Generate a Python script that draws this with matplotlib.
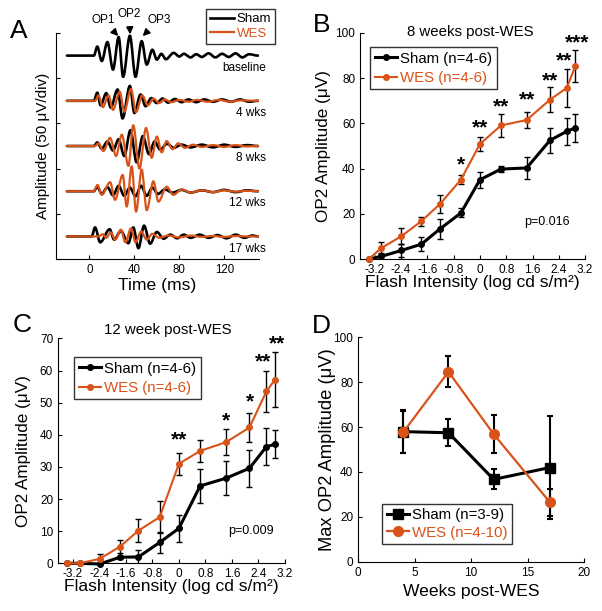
import matplotlib
matplotlib.use("Agg")
import matplotlib.pyplot as plt
from matplotlib.path import Path
from matplotlib.patches import PathPatch

# Section 1: fonts and colours
plt.rcParams['font.family'] = ['Liberation Sans', 'DejaVu Sans']
plt.rcParams['xtick.direction'] = 'in'
plt.rcParams['ytick.direction'] = 'in'
plt.rcParams['axes.linewidth'] = 0.8
sham_col = 'black'
wes_col = '#D95319'

# Section 2A: panel A traces, peaks and troughs (time in ms, amplitude in uV around each baseline)
trace_names = ['baseline', '4 wks', '8 wks', '12 wks', '17 wks']
trace_offsets = [450, 350, 250, 150, 50]

base_sham_t = [-20, 4, 7, 11, 16, 21, 26, 30, 36, 41, 46.5, 51, 56, 60, 64, 68, 75, 80, 84, 90, 95, 100, 106, 112, 118, 124, 130, 136, 142, 150]
base_sham_v = [0, 0, 20, -12, 30, -31, 41, -47, 44, -47, 32, -20, 13, -9, 4, -8, 6, -2, 4, -4, 3, -3, 5, -4, 4, -3, 5, -4, 3, 0]

w4_sham_t = [-20, 4, 7, 10, 15, 19, 25, 29.5, 36, 40, 45.5, 50, 55, 60, 65, 70, 76, 82, 88, 95, 102, 110, 118, 126, 134, 142, 150]
w4_sham_v = [0, 0, 18, -10, 17, -15, 25, -39, 33, -27, 14, -12, 6, -5, 5, -4, 4, -3, 3, -3, 3, -2, 3, -2, 3, -2, 0]
w4_wes_t = [-20, 5, 8, 12, 17, 21, 27, 31, 37, 41.5, 47, 52, 57, 62, 67, 73, 80, 88, 96, 105, 115, 125, 135, 150]
w4_wes_v = [0, 0, 12, -14, 12, -20, 20, -24, 26, -25, 12, -10, 5, -5, 3, -3, 2, -2, 2, -2, 2, -2, 1, 0]

w8_sham_t = [-20, 4, 7, 11, 16, 21, 26, 31, 36.5, 42, 47.5, 53, 58, 63, 69, 75, 82, 90, 100, 110, 120, 130, 140, 150]
w8_sham_v = [0, 0, 8, -6, 10, -10, 15, -22, 35, -36, 22, -18, 10, -8, 5, -4, 3, -3, 3, -3, 3, -2, 2, 0]
w8_wes_t = [-20, 5, 8, 12.4, 18.4, 23.7, 28.8, 34.7, 39, 44.5, 50.4, 55.4, 60, 64.3, 68.7, 74, 79, 85, 92, 100, 110, 120, 130, 140, 150]
w8_wes_v = [0, 0, 6, -11, 18, -22, 25, -44, 46, -50, 40, -26, 21, -14, 11, -7, 6, -4, 3, -2, 2, -2, 2, -1, 0]

w12_sham_t = [-20, 4, 7, 11, 16, 21, 26, 31, 36, 41, 46, 51, 56, 61, 67, 74, 82, 90, 100, 110, 120, 130, 140, 150]
w12_sham_v = [0, 0, 10, -6, 9, -9, 12, -10, 8, -11, 12, -10, 8, -6, 4, -3, 3, -3, 2, -2, 3, -2, 2, 0]
w12_wes_t = [-20, 4, 7.2, 10.9, 18.4, 22.8, 29.6, 33.2, 37.6, 41.5, 46.5, 51, 56.9, 61.4, 68.7, 74.7, 82, 90, 100, 110, 120, 130, 140, 150]
w12_wes_v = [0, 0, 14, -8, 20, -19, 36, -34, 55, -45, 48, -42, 22, -23, 10, -8, 4, -3, 2, -2, 2, -1, 1, 0]

w17_sham_t = [-20, 2, 5, 9.6, 18, 22, 28, 34.7, 39, 43.6, 48.6, 54, 60, 66, 72, 78, 84, 90, 98, 106, 114, 122, 130, 138, 145, 150]
w17_sham_v = [0, 0, 20, -13, 16, -7, 12, -15, 20, -26, 24, -16, 10, -5, 4, -4, 4, -3, 4, -3, 3, -4, 4, -3, 2, 0]
w17_wes_t = [-20, 8, 12, 15, 19, 23, 28, 32, 37, 41, 46, 51, 56, 62, 70, 80, 90, 100, 110, 120, 130, 140, 150]
w17_wes_v = [0, 0, 5, -3, 9, -7, 15, -13, 18, -13, 11, -7, 6, -3, 2, -2, 2, -1, 1, -1, 1, 0, 0]

# Section 2B: panels B and C (OP2 amplitude vs flash intensity)
flash = [-3.38, -3.0, -2.39, -1.78, -1.22, -0.58, 0.0, 0.64, 1.42, 2.13, 2.64, 2.9]

B_sham = [0, 1.2, 3.8, 6.6, 13.3, 20.4, 35.1, 39.8, 40.3, 52.5, 56.5, 58.0]
B_sham_err = [0, 1.5, 3, 3, 4.5, 2, 3.5, 1.5, 5, 5.5, 6, 6]
B_wes = [0, 4.9, 10.1, 16.8, 24.3, 35.1, 50.9, 59.1, 61.5, 70.5, 75.7, 85.3]
B_wes_err = [0, 2.5, 3.5, 2, 4, 2, 3, 5, 3.5, 5.5, 8.5, 7]
B_star_x = [-0.58, 0.0, 0.64, 1.42, 2.13, 2.55, 2.95]
B_star_y = [41.7, 58, 67.3, 70.3, 78.6, 87.5, 95.6]
B_star_txt = ['*', '**', '**', '**', '**', '**', '***']

C_sham = [0, 0, -0.2, 1.9, 2.0, 6.5, 10.9, 24.1, 26.5, 29.6, 36.3, 37.1]
C_sham_err = [0, 0, 1.2, 0.4, 2.2, 3.2, 4.2, 5.3, 5.3, 5.8, 5.7, 4.4]
C_wes = [0, 0, 1.4, 5.2, 10.2, 14.4, 31.0, 35.0, 37.7, 42.3, 53.5, 57.2]
C_wes_err = [0, 0, 1.5, 2.0, 3.5, 5.0, 3.5, 3.5, 4.0, 4.5, 6.3, 8.5]
C_star_x = [0.0, 1.42, 2.13, 2.55, 2.95]
C_star_y = [38.4, 44.4, 50.3, 62.7, 68.4]
C_star_txt = ['**', '*', '*', '**', '**']

# Section 2C: panel D (max OP2 vs weeks)
weeks = [4, 8, 12, 17]
D_sham = [58.0, 57.5, 36.7, 42.0]
D_sham_err = [9.7, 6, 4.5, 23]
D_wes = [57.8, 84.7, 56.9, 26.4]
D_wes_err = [9.5, 7, 8.5, 6]


def px(x, y):
    # pixel position in the 602x611 picture -> figure fraction
    return x / 602, 1 - y / 611


def clean(ax, size=8.5):
    ax.spines['top'].set_visible(False)
    ax.spines['right'].set_visible(False)
    ax.tick_params(labelsize=size, length=3, width=0.8)


def wave(ax, t, v, off, color, lw):
    # smooth curve through the peaks/troughs, flat at each extremum
    verts = [(t[0], v[0] + off)]
    codes = [Path.MOVETO]
    for i in range(len(t) - 1):
        d = (t[i + 1] - t[i]) / 3.0
        verts += [(t[i] + d, v[i] + off), (t[i + 1] - d, v[i + 1] + off), (t[i + 1], v[i + 1] + off)]
        codes += [Path.CURVE4] * 3
    ax.add_patch(PathPatch(Path(verts, codes), fill=False, edgecolor=color, lw=lw,
                           capstyle='round', joinstyle='round'))


def make_legend(handles, loc, anchor, size, hl, spacing):
    leg = fig.legend(handles=handles, loc=loc, bbox_to_anchor=anchor, fontsize=size,
                     frameon=True, fancybox=False, edgecolor='black', handlelength=hl,
                     handletextpad=0.2, borderpad=0.3, labelspacing=spacing, borderaxespad=0)
    leg.get_frame().set_linewidth(1)
    leg.get_texts()[1].set_color(wes_col)
    return leg


fig = plt.figure(figsize=(6.02, 6.11), dpi=100)

# Section 3: panel A
axA = fig.add_axes([0.0925, 0.576, 0.338, 0.370])
clean(axA, 8.3)
sham_traces = [(base_sham_t, base_sham_v), (w4_sham_t, w4_sham_v), (w8_sham_t, w8_sham_v),
               (w12_sham_t, w12_sham_v), (w17_sham_t, w17_sham_v)]
wes_traces = [None, (w4_wes_t, w4_wes_v), (w8_wes_t, w8_wes_v),
              (w12_wes_t, w12_wes_v), (w17_wes_t, w17_wes_v)]
for i in range(5):
    off = trace_offsets[i]
    t, v = sham_traces[i]
    wave(axA, t, v, off, sham_col, 1.9)
    if wes_traces[i] is not None:
        t, v = wes_traces[i]
        wave(axA, t, v, off, wes_col, 1.6)
    axA.text(157, off - 27, trace_names[i], ha='right', va='center', fontsize=8.5, clip_on=False)
axA.set_xlim(-30, 151)
axA.set_ylim(0, 500)
axA.set_xticks([0, 40, 80, 120])
axA.set_yticks([0, 100, 200, 300, 400, 500])
axA.set_yticklabels([])
axA.set_xlabel('Time (ms)', fontsize=12.6, va='center')
axA.xaxis.set_label_coords(0.5, -0.115)
axA.set_ylabel('Amplitude (50 μV/div)', fontsize=11, va='center')
axA.yaxis.set_label_coords(-0.064, 0.5)
for lab, txy, tip in [('OP1', (12.6, 529), (25.6, 493)), ('OP2', (35.3, 542), (36.2, 497)),
                      ('OP3', (61.7, 529), (47.4, 493))]:
    axA.annotate(lab, xy=tip, xytext=txy, ha='center', va='center', fontsize=8.5,
                 annotation_clip=False,
                 arrowprops=dict(arrowstyle='-|>', color='black', lw=1.2, shrinkA=3, shrinkB=0,
                                 mutation_scale=10))
lA1, = axA.plot([], [], color=sham_col, lw=1.9, label='Sham')
lA2, = axA.plot([], [], color=wes_col, lw=1.6, label='WES')
make_legend([lA1, lA2], 'upper right', px(275, 9), 9.5, 1.8, 0.2)

# Section 4: panels B and C
def flash_panel(ax, sham, sham_err, wes, wes_err, sx, sy, stxt, ymax, ystep, ptext, pxy, leg_xy):
    clean(ax)
    ax.errorbar(flash, sham, yerr=sham_err, fmt='none', ecolor='black', elinewidth=1,
                capsize=2, capthick=1, zorder=2)
    ax.errorbar(flash, wes, yerr=wes_err, fmt='none', ecolor='black', elinewidth=1,
                capsize=2, capthick=1, zorder=2)
    l1, = ax.plot(flash, sham, '-o', color=sham_col, lw=2.2, ms=4, clip_on=False, zorder=3,
                  label='Sham (n=4-6)')
    l2, = ax.plot(flash, wes, '-o', color=wes_col, lw=1.5, ms=4, clip_on=False, zorder=4,
                  label='WES (n=4-6)')
    for x, y, s in zip(sx, sy, stxt):
        ax.text(x, y, s, ha='center', va='center', fontsize=15, fontweight='bold', clip_on=False)
    ax.set_xlim(-3.65, 3.2)
    ax.set_ylim(0, ymax)
    ax.set_xticks([-3.2, -2.4, -1.6, -0.8, 0, 0.8, 1.6, 2.4, 3.2])
    ax.set_xticklabels(['-3.2', '-2.4', '-1.6', '-0.8', '0', '0.8', '1.6', '2.4', '3.2'])
    ax.set_yticks(range(0, ymax + 1, ystep))
    ax.text(pxy[0], pxy[1], ptext, ha='center', va='center', fontsize=9, transform=ax.transAxes)
    ax.set_xlabel('Flash Intensity (log cd s/m²)', fontsize=12.6, va='center')
    ax.xaxis.set_label_coords(0.5, -0.102)
    ax.set_ylabel('OP2 Amplitude (μV)', fontsize=12.3, va='center')
    make_legend([l1, l2], 'upper left', leg_xy, 10.8, 1.5, 0.35)


axB = fig.add_axes([0.598, 0.576, 0.374, 0.370])
flash_panel(axB, B_sham, B_sham_err, B_wes, B_wes_err, B_star_x, B_star_y, B_star_txt,
            100, 20, 'p=0.016', (0.83, 0.165), px(370, 47))
axB.yaxis.set_label_coords(-0.164, 0.5)

axC = fig.add_axes([0.0963, 0.078, 0.377, 0.368])
flash_panel(axC, C_sham, C_sham_err, C_wes, C_wes_err, C_star_x, C_star_y, C_star_txt,
            70, 10, 'p=0.009', (0.85, 0.145), px(74, 357))
axC.yaxis.set_label_coords(-0.15, 0.5)

# Section 5: panel D
axD = fig.add_axes([0.595, 0.0807, 0.375, 0.367])
clean(axD)
axD.errorbar(weeks, D_sham, yerr=D_sham_err, fmt='none', ecolor='black', elinewidth=1.5,
             capsize=2, capthick=1.5)
axD.errorbar(weeks, D_wes, yerr=D_wes_err, fmt='none', ecolor='black', elinewidth=1.5,
             capsize=2, capthick=1.5)
lD1, = axD.plot(weeks, D_sham, '-s', color=sham_col, lw=2.2, ms=7, label='Sham (n=3-9)')
lD2, = axD.plot(weeks, D_wes, '-o', color=wes_col, lw=1.6, ms=7, label='WES (n=4-10)')
axD.set_xlim(0, 20)
axD.set_ylim(0, 100)
axD.set_xticks([0, 5, 10, 15, 20])
axD.set_yticks([0, 20, 40, 60, 80, 100])
axD.set_xlabel('Weeks post-WES', fontsize=12.6, va='center')
axD.xaxis.set_label_coords(0.5, -0.134)
axD.set_ylabel('Max OP2 Amplitude (μV)', fontsize=13.2, va='center')
axD.yaxis.set_label_coords(-0.137, 0.5)
make_legend([lD1, lD2], 'upper left', px(382, 504), 10.8, 1.5, 0.2)

# Section 6: titles and panel letters
fig.text(*px(470, 32), '8 weeks post-WES', ha='center', va='center', fontsize=10.8)
fig.text(*px(168, 330), '12 week post-WES', ha='center', va='center', fontsize=10.8)
for letter, (x, y) in zip('ABCD', [(18.7, 30.5), (321.7, 25), (22.5, 325), (321.7, 326)]):
    fig.text(*px(x, y), letter, ha='center', va='center', fontsize=19)

fig.savefig('out.png', dpi=100)
